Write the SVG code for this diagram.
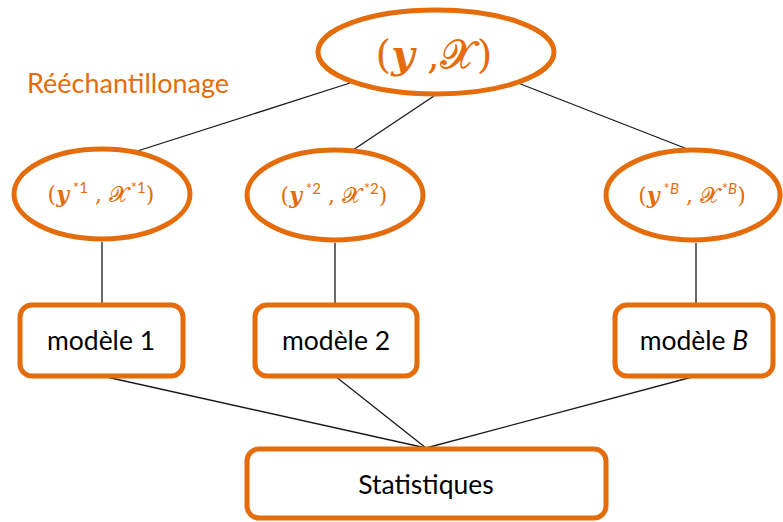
<svg xmlns="http://www.w3.org/2000/svg" width="783" height="522" viewBox="0 0 783 522">
<style>
.node{fill:#fff;stroke:#E46C0A;stroke-width:5}
.con{stroke:#1a1a1a;stroke-width:1.3;fill:none}
.lbl{font-family:Lato,"Liberation Sans",sans-serif;font-size:26.5px;fill:#000;text-anchor:middle}
.math{font-family:"DejaVu Serif","Liberation Serif",serif;fill:#E46C0A;text-anchor:middle}
.v{font-style:italic;font-weight:bold}
.x{font-style:normal;font-weight:normal}
.sup{font-family:Lato,"Liberation Sans",sans-serif;font-weight:normal}
.ttl{font-family:Lato,"Liberation Sans",sans-serif;font-size:27px;fill:#E46C0A}
</style>
<g id="connectors">
<line class="con" x1="350" y1="83" x2="103" y2="162"/>
<line class="con" x1="434" y1="96" x2="335" y2="162"/>
<line class="con" x1="518" y1="83" x2="695" y2="152"/>
<line class="con" x1="102" y1="242" x2="102" y2="303"/>
<line class="con" x1="335" y1="243" x2="335" y2="303"/>
<line class="con" x1="696" y1="243" x2="696" y2="303"/>
<line class="con" x1="102" y1="376" x2="426" y2="448"/>
<line class="con" x1="335" y1="376" x2="426" y2="448"/>
<line class="con" x1="696" y1="376" x2="426" y2="448"/>
</g>
<g id="label-reechantillonage"><text class="ttl" x="27" y="93">Rééchantillonage</text></g>
<g id="node-yX">
<ellipse class="node" cx="436" cy="52" rx="118" ry="42"/>
<text class="math" x="434" y="68" font-size="40">(<tspan class="v">y</tspan> ,<tspan class="x">𝓧</tspan><tspan dx="5">)</tspan></text>
</g>
<g id="node-s1">
<ellipse class="node" cx="102" cy="194" rx="88" ry="45"/>
<text class="math" x="101" y="202" font-size="22">(<tspan class="v">y</tspan><tspan class="sup" font-size="15" dy="-9" style="font-style:normal"> *1</tspan><tspan dy="9"> , </tspan><tspan class="x">𝓧</tspan><tspan class="sup" font-size="15" dy="-9" style="font-style:normal"> *1</tspan><tspan dy="9">)</tspan></text>
</g>
<g id="node-s2">
<ellipse class="node" cx="335" cy="195" rx="88" ry="45"/>
<text class="math" x="334" y="203" font-size="22">(<tspan class="v">y</tspan><tspan class="sup" font-size="15" dy="-9" style="font-style:normal"> *2</tspan><tspan dy="9"> , </tspan><tspan class="x">𝓧</tspan><tspan class="sup" font-size="15" dy="-9" style="font-style:normal"> *2</tspan><tspan dy="9">)</tspan></text>
</g>
<g id="node-sB">
<ellipse class="node" cx="693" cy="195" rx="87" ry="45"/>
<text class="math" x="692" y="203" font-size="22">(<tspan class="v">y</tspan><tspan class="sup" font-size="15" dy="-9" style="font-style:normal"> *<tspan style="font-style:italic">B</tspan></tspan><tspan dy="9"> , </tspan><tspan class="x">𝓧</tspan><tspan class="sup" font-size="15" dy="-9" style="font-style:normal"> *<tspan style="font-style:italic">B</tspan></tspan><tspan dy="9">)</tspan></text>
</g>
<g id="node-m1">
<rect class="node" x="20" y="305" width="163" height="71" rx="12"/>
<text class="lbl" x="101" y="350">modèle 1</text>
</g>
<g id="node-m2">
<rect class="node" x="255" y="305" width="162" height="71" rx="12"/>
<text class="lbl" x="336" y="350">modèle 2</text>
</g>
<g id="node-mB">
<rect class="node" x="615" y="305" width="158" height="71" rx="12"/>
<text class="lbl" x="694" y="350">modèle <tspan font-style="italic">B</tspan></text>
</g>
<g id="node-stats">
<rect class="node" x="247" y="449" width="359" height="69" rx="12"/>
<text class="lbl" x="426" y="494">Statistiques</text>
</g>
</svg>
